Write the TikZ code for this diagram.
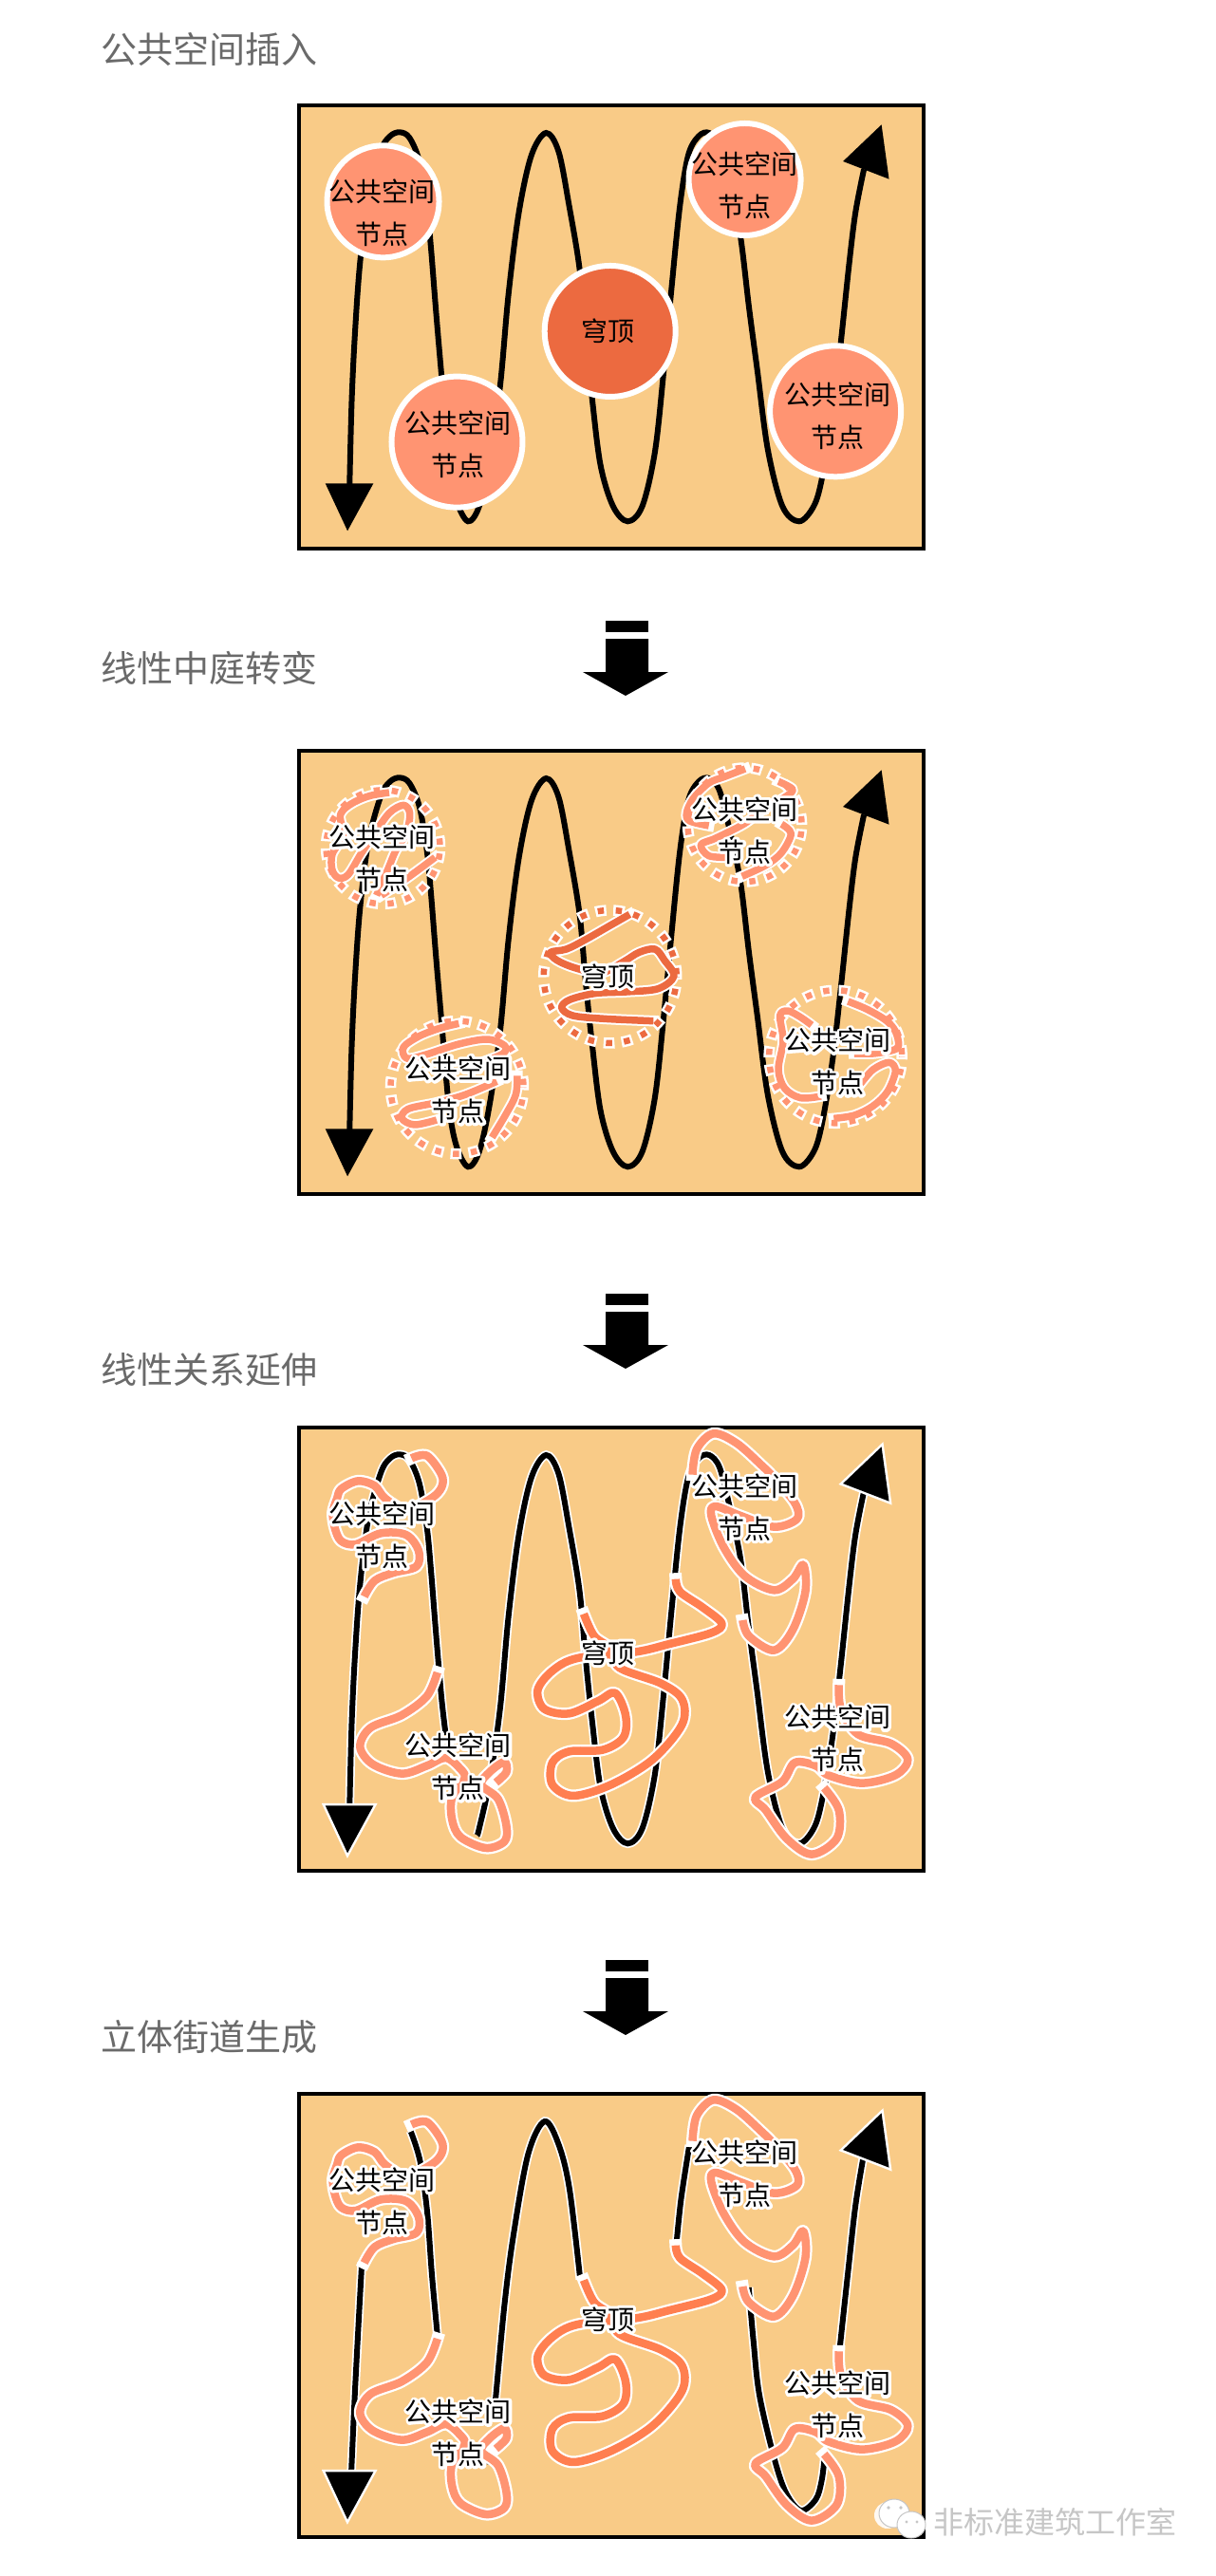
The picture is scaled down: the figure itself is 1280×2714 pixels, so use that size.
\documentclass[tikz,border=0pt]{standalone}
\usepackage{fontspec}
\newfontfamily\cjk{Noto Sans CJK SC}
\definecolor{panelbg}{HTML}{F9CB87}
\definecolor{salmon}{HTML}{FF9472}
\definecolor{domefill}{HTML}{EC6A40}
\definecolor{domeline}{HTML}{FF7F50}
\definecolor{titlegray}{HTML}{6A6A6A}
\definecolor{markgray}{HTML}{C6C6C6}
\newcommand{\hl}[1]{\leavevmode\rlap{\special{pdf:code 1 Tr 6 w 1 J 1 j 1 1 1 RG}#1\special{pdf:code 0 Tr 0 0 0 RG}}#1}
\newcommand{\plaintxt}[1]{#1}
\tikzset{
  canon/.style={x=0.4405pt,y=-0.3333pt},
  frameline/.style={draw=black,line width=4pt,fill=panelbg},
  baseline/.style={black,line width=6pt},
  basecase/.style={white,line width=9.5pt},
  lab/.style={align=center,font=\cjk\fontsize{28}{45}\selectfont,inner sep=0pt,text=black},
  ttl/.style={anchor=west,font=\cjk\fontsize{38}{44}\selectfont,text=titlegray,inner sep=0pt},
  dot1/.style={circle,minimum size=118pt,inner sep=0pt,draw=white,line width=6pt,fill=salmon},
  dot2/.style={circle,minimum size=138pt,inner sep=0pt,draw=white,line width=6pt,fill=salmon},
  dot3/.style={circle,minimum size=138pt,inner sep=0pt,draw=white,line width=6pt,fill=domefill},
  headcase/.style={preaction={draw=white,line width=5pt},fill=black},
  headplain/.style={fill=black},
  bigarrow/.style={fill=black}
}
% smooth curve through a stored list
\def\dodraw#1#2{\draw[#2] plot[smooth,tension=.55] coordinates {#1};}
\newcommand{\curveplot}[2]{\edef\tmpc{#2}\expandafter\dodraw\expandafter{\tmpc}{#1}}
\def\ptsL{(155,1262)(160,1000)(168,780)(180,560)(200,350)(230,205)(252,160)(275,148)(298,165)(322,240)(340,380)(350,520)(362,720)(375,920)}
\def\ptsM{(392,1180)(410,1310)(438,1378)}
\def\ptsR{(465,1330)(490,1180)(515,950)(535,660)(560,400)(590,220)(625,150)(655,210)(680,380)(705,580)(720,800)(735,990)(755,1200)(785,1330)(820,1378)(855,1330)(885,1160)(905,920)(925,640)(945,380)(965,220)(990,160)(1015,150)(1040,190)(1065,320)(1090,480)(1110,700)(1130,900)(1155,1150)(1190,1330)(1230,1378)(1265,1330)(1285,1240)(1310,1040)(1330,810)(1350,560)(1365,400)(1385,265)}
% panel frame
\newcommand{\panelframe}{\draw[frameline] (33,62) rectangle (1527,1465);}
% arrow heads
\newcommand{\heads}[1]{%
  \path[#1] (97,1258) -- (212,1258) -- (150,1408) -- cycle;
  \path[#1] (1427,124) -- (1335,240) -- (1445,296) -- cycle;}
% node labels
\newcommand{\labelset}[2]{%
  \node[lab] (#1a) at (232,402) {#2{公共空间}\\#2{节点}};
  \node[lab] (#1b) at (415,1135) {#2{公共空间}\\#2{节点}};
  \node[lab] (#1c) at (772,775) {#2{穹顶}};
  \node[lab] (#1d) at (1100,315) {#2{公共空间}\\#2{节点}};
  \node[lab] (#1e) at (1322,1046) {#2{公共空间}\\#2{节点}};}
% scribbles of panel 3 and 4 (canonical coordinates)
\newcommand{\strandpair}[3]{%
  \draw[white,line width=#2+4.5pt,line cap=rect,line join=round] plot[smooth,tension=.55] coordinates {#3};
  \draw[#1,line width=#2,line join=round] plot[smooth,tension=.55] coordinates {#3};}
\newcommand{\longstrands}{%
  \strandpair{salmon}{8.5pt}{(190,597)(215,547)(260,522)(315,502)(320,452)(290,402)(230,397)(170,432)(135,422)(120,382)(115,332)(125,287)(135,257)(175,232)(215,247)(240,287)(290,322)(350,287)(375,252)(375,212)(340,152)(303,160)}
  \strandpair{salmon}{8.5pt}{(365,837)(340,912)(280,972)(205,1012)(180,1072)(210,1127)(280,1157)(340,1132)(385,1107)(420,1142)(430,1172)(400,1232)(400,1302)(420,1357)(480,1392)(525,1372)(530,1322)(510,1237)(470,1192)(490,1152)(525,1120)(530,1152)(505,1185)}
  \strandpair{domeline}{8.5pt}{(935,542)(945,582)(1000,632)(1045,682)(1020,712)(920,747)(840,772)(700,792)(640,832)(605,892)(620,952)(680,967)(750,927)(790,902)(815,972)(810,1042)(760,1082)(680,1087)(640,1122)(640,1192)(690,1227)(780,1192)(880,1112)(950,1002)(950,922)(900,872)(800,822)(780,762)(740,722)(715,652)}
  \strandpair{salmon}{8.5pt}{(975,212)(985,132)(1025,82)(1080,112)(1140,182)(1170,222)(1220,302)(1225,352)(1170,377)(1090,342)(1030,312)(1020,342)(1050,442)(1100,532)(1170,577)(1215,542)(1240,497)(1245,582)(1215,702)(1170,767)(1110,722)(1095,672)}
  \strandpair{salmon}{8.5pt}{(1325,877)(1330,952)(1370,1032)(1450,1062)(1490,1112)(1460,1162)(1380,1187)(1300,1162)(1270,1132)(1220,1122)(1190,1182)(1125,1232)(1150,1272)(1200,1362)(1260,1412)(1320,1362)(1325,1272)(1290,1202)}
}
% scribbles and dotted rings of panel 2, drawn once for white and once for colour
\newcommand{\ringset}{%
  \begin{scope}[canon]
    \foreach \x/\y/\r/\k in {235/367/60/s,412/1127/70/s,778/777/70/d,1100/297/60/s,1317/1030/70/s}{
      \draw[ring\k] (\x,\y) circle [x radius=\r pt,y radius=\r pt];}
  \end{scope}}
\newcommand{\scribbleset}{%
  \begin{scope}[shift={(330,810)},x=0.3333pt,y=-0.3333pt]
    \draw[strs] plot[smooth,tension=.55] coordinates {(240,75)(180,85)(130,105)(95,130)(85,155)(95,210)(60,270)(60,320)(80,345)(110,335)(150,270)(190,210)(240,140)(285,115)(305,140)(295,200)(260,260)(235,320)(200,400)};
    \draw[strs] plot[smooth,tension=.55] coordinates {(215,400)(290,350)(345,310)(385,280)};
  \end{scope}
  \begin{scope}[shift={(400,1060)},x=0.3333pt,y=-0.3333pt]
    \draw[strs] plot[smooth,tension=.55] coordinates {(250,55)(190,70)(125,95)(75,130)(85,165)(140,155)(250,120)(340,105)(395,125)(390,150)(330,175)};
    \draw[strs] plot[smooth,tension=.55] coordinates {(370,238)(270,280)(180,305)(90,325)(70,355)(110,375)(180,360)};
    \draw[strs] plot[smooth,tension=.55] coordinates {(435,220)(430,280)(400,340)(355,415)};
  \end{scope}
  \begin{scope}[shift={(560,945)},x=0.3333pt,y=-0.3333pt]
    \draw[strd] plot[smooth,tension=.55] coordinates {(310,55)(240,95)(170,135)(110,165)(60,175)(80,200)(140,225)(220,240)(290,205)(340,175)(390,165)(420,200)(450,250)(400,290)(300,300)(200,305)(120,325)(95,350)(130,375)(230,385)(385,392)};
  \end{scope}
  \begin{scope}[shift={(710,795)},x=0.3333pt,y=-0.3333pt]
    \draw[strs] plot[smooth,tension=.55] coordinates {(225,45)(160,70)(110,90)(60,140)(40,185)(50,210)(110,225)};
    \draw[strs] plot[smooth,tension=.55] coordinates {(330,85)(375,110)(350,135)(280,175)(220,220)(130,265)(85,285)(110,320)(175,325)};
    \draw[strs] plot[smooth,tension=.55] coordinates {(340,220)(370,250)(340,310)(290,350)(215,385)};
  \end{scope}
  \begin{scope}[shift={(800,1030)},x=0.3333pt,y=-0.3333pt]
    \draw[strs] plot[smooth,tension=.55] coordinates {(280,75)(340,100)(400,135)(430,170)(440,215)(420,230)(360,240)(300,240)};
    \draw[strs] plot[smooth,tension=.55] coordinates {(165,150)(130,125)(90,105)(65,120)(75,200)(60,290)(80,350)(130,380)(195,375)};
    \draw[strs] plot[smooth,tension=.55] coordinates {(235,445)(300,435)(360,405)(405,360)(430,295)(410,268)(360,290)(320,335)};
  \end{scope}}
\newcommand{\stackarrow}[1]{%
  \begin{scope}[yshift=-#1pt]
    \fill[bigarrow] (638,654) rectangle (683,666);
    \fill[bigarrow] (638,673) -- (683,673) -- (683,708) -- (704,708) -- (659,733) -- (614,708) -- (638,708) -- cycle;
  \end{scope}}
\begin{document}
\begin{tikzpicture}[x=1pt,y=-1pt]
\path[use as bounding box,fill=white] (0,0) rectangle (1280,2714);

% titles
\node[ttl] (t1) at (106,52) {公共空间插入};
\node[ttl] (t2) at (106,704) {线性中庭转变};
\node[ttl] (t3) at (106,1443) {线性关系延伸};
\node[ttl] (t4) at (106,2146) {立体街道生成};

% arrows between panels
\stackarrow{0}
\stackarrow{709}
\stackarrow{1411}

% PANEL 1
\begin{scope}[shift={(300,90)},canon]
  \panelframe
  \curveplot{baseline}{\ptsL\ptsM\ptsR}
  \heads{headplain}
  \node[dot1] (p1ca) at (235,367) {};
  \node[dot2] (p1cb) at (412,1127) {};
  \node[dot3] (p1cc) at (778,777) {};
  \node[dot1] (p1cd) at (1100,297) {};
  \node[dot2] (p1ce) at (1317,1030) {};
  \labelset{p1}{\plaintxt}
\end{scope}

% PANEL 2
\begin{scope}[shift={(300,770)},canon]
  \panelframe
  \curveplot{baseline}{\ptsL\ptsM\ptsR}
  \heads{headplain}
\end{scope}
% white under-layer
\begin{scope}[shift={(300,770)},
  rings/.style={white,line width=11.5pt,dash pattern=on 11.5pt off 7.5pt},
  ringd/.style={white,line width=11.5pt,dash pattern=on 11.5pt off 7.5pt}]
  \ringset
\end{scope}
\begin{scope}[strs/.style={white,line width=11.5pt,line cap=rect,line join=round},
  strd/.style={white,line width=11.5pt,line cap=rect,line join=round}]
  \scribbleset
\end{scope}
% colour layer
\begin{scope}[shift={(300,770)},
  rings/.style={salmon,line width=6.5pt,dash pattern=on 6.5pt off 12.5pt,dash phase=16.5pt},
  ringd/.style={domefill,line width=6.5pt,dash pattern=on 6.5pt off 12.5pt,dash phase=16.5pt}]
  \ringset
\end{scope}
\begin{scope}[strs/.style={salmon,line width=7.5pt,line join=round},
  strd/.style={domefill,line width=7.5pt,line join=round}]
  \scribbleset
\end{scope}
\begin{scope}[shift={(300,770)},canon]
  \labelset{p2}{\hl}
\end{scope}

% PANEL 3
\begin{scope}[shift={(300,1483)},canon]
  \panelframe
  \curveplot{basecase}{\ptsL(385,1035)}
  \curveplot{basecase}{(460,1352)\ptsR}
  \curveplot{baseline}{\ptsL(385,1035)}
  \curveplot{baseline}{(460,1352)\ptsR}
  \heads{headcase}
  \longstrands
  \labelset{p3}{\hl}
\end{scope}

% PANEL 4
\begin{scope}[shift={(300,2185)},canon]
  \panelframe
\end{scope}
\begin{scope}[shift={(300,2190)},x=0.625pt,y=-0.3333pt]
  \foreach \pts in {
    {(112,1250)(118,1000)(125,750)(130,580)},
    {(212,165)(228,260)(240,420)(248,620)(258,825)},
    {(355,1020)(370,720)(385,500)(410,240)(438,135)(462,210)(480,350)(498,635)},
    {(660,525)(668,380)(682,210)},
    {(345,1220)(350,1160)(355,1110)},
    {(782,660)(790,830)(800,1000)(825,1200)(845,1310)(870,1365)(895,1330)(905,1270)(910,1195)},
    {(935,860)(950,600)(962,400)(975,250)}}{
    \expandafter\dodraw\expandafter{\pts}{basecase}
    \expandafter\dodraw\expandafter{\pts}{baseline}
  }
\end{scope}
\begin{scope}[shift={(300,2185)},canon]
  \heads{headcase}
  \longstrands
  \labelset{p4}{\hl}
\end{scope}

% watermark
\fill[white,opacity=.9] (935,2650) ellipse [x radius=14pt,y radius=14pt];
\draw[markgray,fill=white,line width=1pt] (942,2648) ellipse [x radius=16pt,y radius=15pt];
\draw[markgray,fill=white,line width=1pt] (960,2660) ellipse [x radius=15pt,y radius=14pt];
\fill[markgray] (936,2642) circle [radius=1.8pt] (949,2642) circle [radius=1.8pt] (955,2657) circle [radius=1.6pt] (966,2657) circle [radius=1.6pt];
\node[anchor=west,font=\cjk\fontsize{32}{36}\selectfont,text=markgray,inner sep=0pt] (mark) at (983,2657) {非标准建筑工作室};
\end{tikzpicture}
\end{document}
